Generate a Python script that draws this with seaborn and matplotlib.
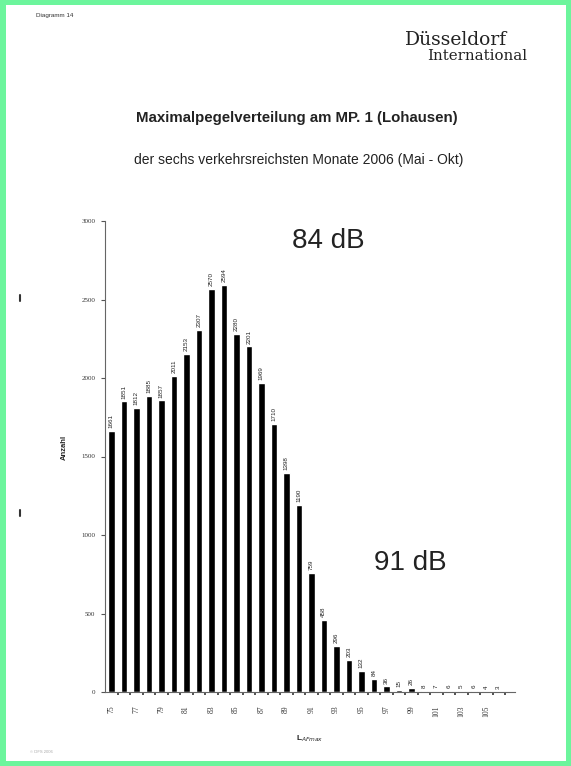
import numpy as np
import pandas as pd
import seaborn as sns
import matplotlib.pyplot as plt
from matplotlib.patches import Rectangle
from matplotlib.lines import Line2D

sns.set_style("white")
plt.rcParams['font.family'] = ['Liberation Sans', 'DejaVu Sans']

# Maximalpegel classes (dB) and counts
levels = list(range(75, 107))
counts = [1661, 1851, 1812, 1885, 1857, 2011, 2153, 2307, 2570, 2594,
          2280, 2201, 1969, 1710, 1398, 1190, 759, 458, 296, 203,
          132, 84, 36, 15, 26, 8, 7, 6, 5, 6, 4, 3]
tick_levels = list(range(75, 107, 2))
yticks = [0, 500, 1000, 1500, 2000, 2500, 3000]

df = pd.DataFrame({'level': [str(v) for v in levels], 'count': counts})

fig = plt.figure(figsize=(5.71, 7.66), dpi=100)
fig.patch.set_facecolor('#6cf59c')
# white scanned page inside the green frame
fig.patches.append(Rectangle((6 / 571, 5 / 766), 560 / 571, 756 / 766,
                             transform=fig.transFigure, facecolor='white',
                             edgecolor='none', zorder=-5))
# punch marks on the left margin
for yy in [298, 513]:
    fig.add_artist(Line2D([20 / 571, 20 / 571], [1 - (yy - 3) / 766, 1 - (yy + 3) / 766],
                          color='#333333', lw=1.5))

ax = fig.add_axes([105 / 571, 1 - 692 / 766, 410 / 571, 471 / 766])
ax.set_facecolor('none')
sns.barplot(ax=ax, data=df, x='level', y='count', color='black',
            width=0.52, saturation=1, order=df['level'])

# rotated value labels above the bars
ax.bar_label(ax.containers[0], labels=[str(c) for c in counts], rotation=90,
             fontsize=4.5, padding=2, color='#222222')

ax.set_xlim(-0.5, 32.3)
ax.set_ylim(0, 3000)
ax.set_yticks(yticks)
ax.set_yticklabels([str(v) for v in yticks], fontsize=5, color='#333333',
                   family='Liberation Serif')
pos = [levels.index(v) for v in tick_levels]
ax.set_xticks(pos)
ax.set_xticklabels([str(v) for v in tick_levels], rotation=90, fontsize=5.5,
                   color='#333333', family='Liberation Serif')
ax.set_xticks(np.arange(len(levels)) + 0.5, minor=True)
ax.tick_params(axis='x', which='major', bottom=False, pad=6)
ax.tick_params(axis='x', which='minor', bottom=True, length=2.5, width=1.3,
               color='#444444', direction='out')
ax.tick_params(axis='y', left=True, length=3, width=0.8, color='#555555', pad=4)
for side in ['top', 'right']:
    ax.spines[side].set_visible(False)
for side in ['left', 'bottom']:
    ax.spines[side].set_color('#666666')
    ax.spines[side].set_linewidth(0.8)

ax.set_xlabel('L$_{AFmax}$', fontsize=6, fontweight='bold', labelpad=12)
ax.set_ylabel('Anzahl', fontsize=5.5, fontweight='bold', labelpad=6)
ax.yaxis.set_label_coords(-0.09, 0.52)

# annotations
ax.text(17.4, 2870, '84 dB', fontsize=20, color='#222222', ha='center',
        va='center')
ax.text(23.9, 822, '91 dB', fontsize=20, color='#222222', ha='center',
        va='center')

# page header
fig.text(36 / 571, 1 - 16 / 766, 'Diagramm 14', fontsize=4.5, color='#333333',
         va='center')
fig.text(405 / 571, 1 - 40 / 766, 'Düsseldorf', fontsize=13.5,
         family='DejaVu Serif', color='#222222', va='center')
fig.text(427 / 571, 1 - 56 / 766, 'International', fontsize=10.8,
         family='DejaVu Serif', color='#222222', va='center')
fig.text(297 / 571, 1 - 118 / 766, 'Maximalpegelverteilung am MP. 1 (Lohausen)',
         fontsize=10.8, fontweight='bold', color='#222222', ha='center',
         va='center')
fig.text(299 / 571, 1 - 160 / 766,
         'der sechs verkehrsreichsten Monate 2006 (Mai - Okt)', fontsize=10,
         color='#222222', ha='center', va='center')
fig.text(30 / 571, 1 - 752 / 766, '© DFS 2006', fontsize=3, color='#aaaaaa',
         va='center')

fig.savefig('out.png', dpi=100, facecolor=fig.get_facecolor())
